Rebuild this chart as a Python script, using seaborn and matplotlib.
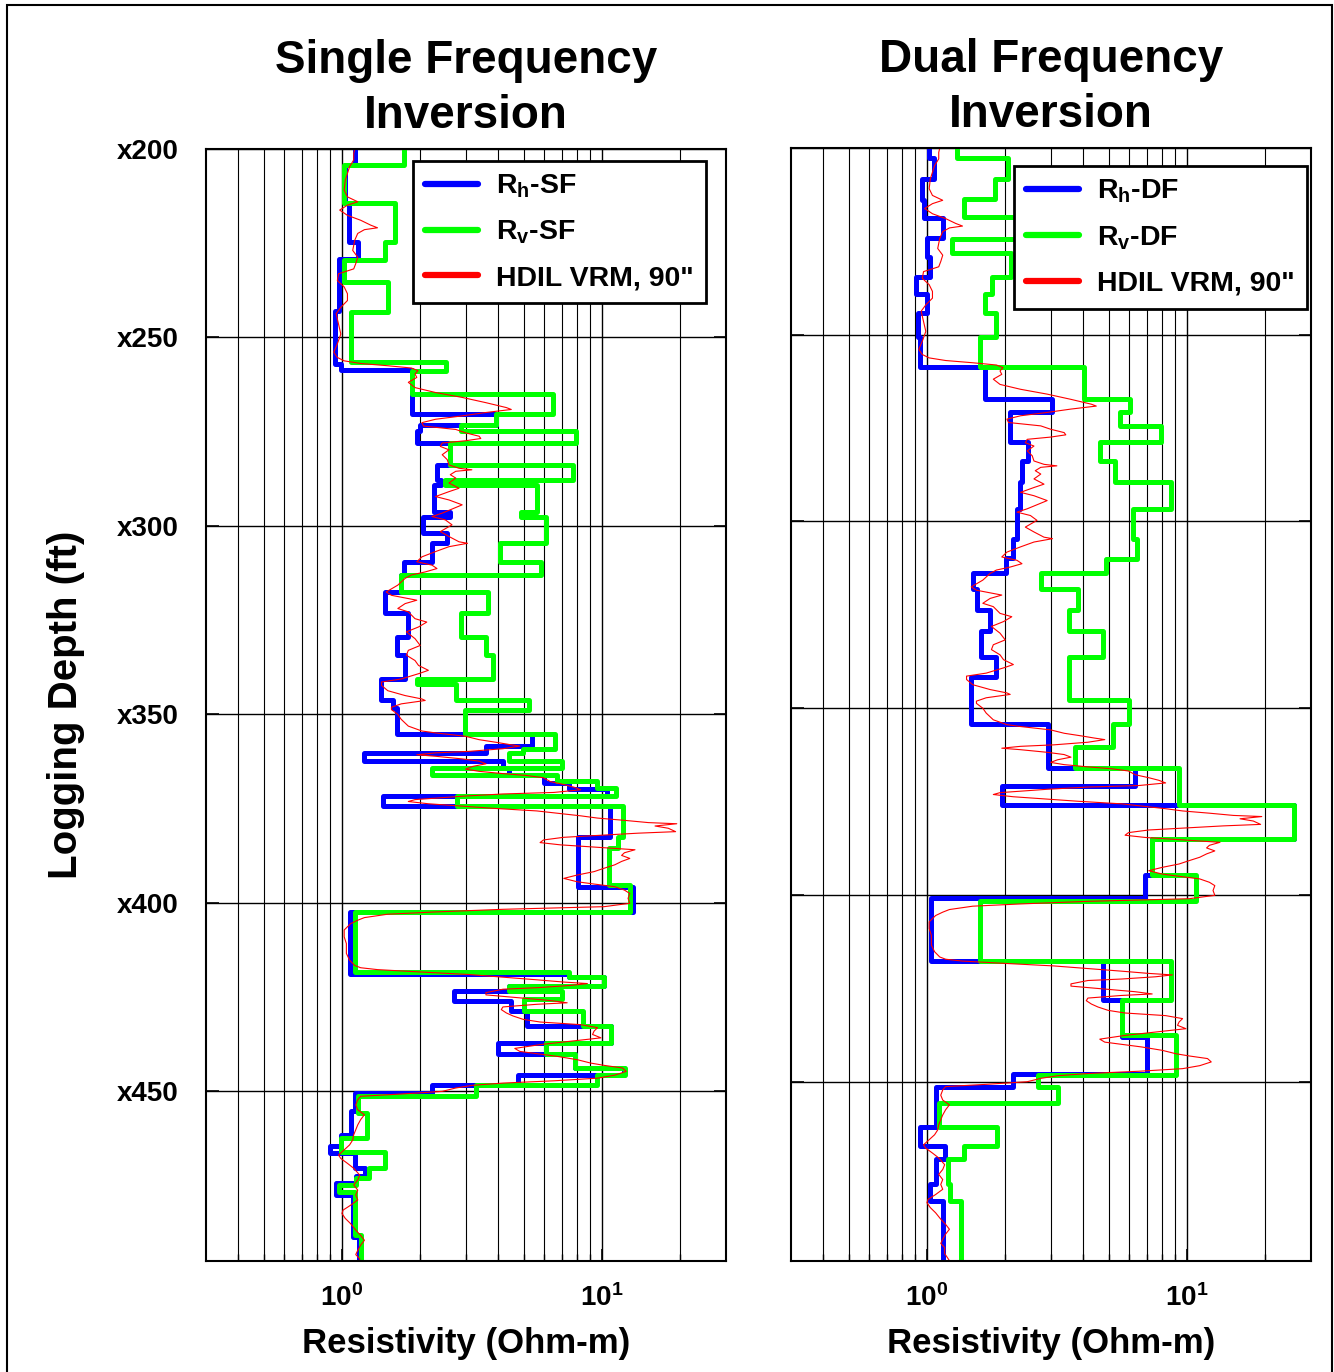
import numpy as np
import pandas as pd
import matplotlib
matplotlib.use("Agg")
import matplotlib.pyplot as plt
import seaborn as sns
from matplotlib.patches import Rectangle
from matplotlib.ticker import FixedLocator, FixedFormatter, NullFormatter

# ---------------- data (depth in ft, resistivity in Ohm-m) ----------------
rh_sf_edges = [200.0, 204.3, 214.3, 224.7, 229.3, 242.9, 257.0, 258.7, 270.4, 273.3, 274.9,
               278.0, 283.8, 287.8, 289.1, 296.2, 297.5, 302.0, 304.6, 309.5, 313.0, 317.5,
               323.2, 329.5, 334.3, 340.6, 346.3, 348.2, 355.3, 358.4, 360.2, 362.4, 364.2,
               366.0, 368.2, 369.8, 371.7, 374.4, 382.4, 395.7, 402.4, 418.8, 419.7, 422.0,
               423.4, 425.9, 428.7, 432.7, 437.1, 440.2, 443.8, 445.6, 448.2, 450.4, 455.3,
               461.5, 464.6, 466.4, 470.4, 472.5, 474.4, 477.5, 488.6, 495.0]
rh_sf = [1.12, 1.03, 1.065, 1.15, 0.973, 0.939, 0.99, 1.853, 3.92, 2.0, 1.94, 2.61, 2.32,
         2.41, 2.265, 2.61, 2.05, 2.54, 2.22, 1.73, 1.69, 1.47, 1.80, 1.63, 1.745, 1.415,
         1.57, 1.63, 5.36, 3.58, 1.22, 4.16, 4.4, 6.0, 7.46, 10.5, 1.44, 10.7, 8.1, 13.2,
         1.07, 7.5, 10.2, 4.4, 2.69, 4.48, 5.13, 10.8, 4.0, 7.85, 12.2, 4.76, 2.22, 1.12,
         1.08, 0.99, 0.90, 1.12, 1.23, 1.13, 0.945, 1.10, 1.165]

rv_sf_edges = [200.0, 204.3, 214.3, 224.7, 229.5, 235.3, 243.3, 256.6, 258.8, 264.9, 270.4,
               273.3, 274.9, 278.0, 283.8, 287.8, 289.1, 296.2, 297.5, 304.6, 309.5, 313.0,
               317.5, 323.2, 329.5, 334.3, 340.6, 341.9, 346.3, 348.7, 355.3, 359.3, 360.2,
               362.4, 364.2, 366.0, 367.7, 369.5, 371.7, 374.4, 382.4, 385.5, 395.3, 402.4,
               418.3, 419.7, 422.0, 423.4, 425.6, 428.7, 432.7, 437.1, 440.2, 443.8, 445.6,
               448.2, 451.3, 455.8, 462.4, 466.0, 470.4, 472.9, 474.8, 476.6, 488.2, 495.0]
rv_sf = [1.73, 1.018, 1.595, 1.47, 1.018, 1.50, 1.087, 2.515, 1.853, 6.48, 3.92, 2.86, 7.92,
         2.61, 7.75, 2.50, 5.61, 4.90, 6.08, 4.07, 5.83, 1.69, 3.64, 2.86, 3.58, 3.80, 1.94,
         2.735, 5.25, 2.97, 6.58, 4.98, 4.39, 7.0, 2.22, 6.71, 9.6, 11.3, 2.78, 12.0, 11.5,
         10.6, 12.8, 1.12, 7.5, 10.2, 4.39, 7.0, 5.0, 8.46, 10.8, 6.1, 7.85, 12.3, 9.6, 3.27,
         1.15, 1.25, 0.99, 1.47, 1.27, 1.13, 0.97, 1.12, 1.18]

rh_df_edges = [200.0, 202.6, 208.4, 213.8, 218.7, 224.1, 229.1, 234.5, 239.1, 244.3, 250.6,
               258.7, 267.3, 270.8, 278.7, 283.7, 289.5, 296.7, 304.8, 309.7, 313.8, 318.2,
               323.6, 329.2, 336.2, 341.6, 354.2, 366.1, 370.9, 375.8, 385.0, 394.7, 400.9,
               417.6, 428.0, 437.9, 447.8, 451.3, 462.1, 467.1, 470.7, 477.4, 481.9, 498.5]
rh_df = [1.018, 1.065, 0.959, 0.973, 1.148, 1.003, 1.024, 0.909, 1.003, 0.922, 0.939, 1.669,
         3.04, 2.09, 2.44, 2.32, 2.285, 2.22, 2.15, 2.01, 1.50, 1.563, 1.755, 1.61, 1.842,
         1.48, 2.93, 6.32, 1.94, 25.8, 7.35, 6.92, 1.033, 4.76, 5.61, 7.02, 2.15, 1.087,
         0.939, 1.176, 1.087, 1.024, 1.148]

rv_df_edges = [200.0, 202.6, 208.4, 213.6, 218.5, 224.3, 228.2, 234.5, 239.1, 244.3, 250.6,
               258.7, 267.3, 270.8, 274.3, 278.7, 283.7, 289.3, 296.7, 304.8, 310.0, 313.8,
               318.1, 323.8, 329.2, 336.2, 347.9, 354.2, 360.4, 366.1, 375.8, 385.0, 394.7,
               401.6, 417.6, 428.0, 437.4, 448.2, 451.3, 455.7, 462.1, 467.1, 470.7, 477.4,
               481.9, 498.5]
rv_df = [1.302, 2.058, 1.826, 1.394, 2.6, 1.244, 2.10, 1.772, 1.679, 1.842, 1.595, 4.01, 6.05,
         5.53, 7.92, 4.62, 5.28, 8.66, 6.2, 6.4, 4.87, 2.735, 3.80, 3.51, 4.76, 3.51, 5.96,
         5.21, 3.71, 9.3, 25.8, 7.35, 10.8, 1.595, 8.66, 5.61, 9.06, 2.67, 3.18, 1.114, 1.853,
         1.394, 1.207, 1.23, 1.353]

hdil_depth = [200.0, 201.2, 202.9, 204.7, 206.5, 208.3, 210.9, 212.7, 214.0, 214.9, 216.2, 217.6,
              218.9, 220.2, 220.9, 221.4, 222.4, 224.2, 226.9, 228.7, 230.4, 231.8, 233.1, 234.9,
              236.6, 238.4, 240.2, 242.0, 243.7, 246.4, 249.1, 251.7, 253.9, 255.3, 256.2, 256.9,
              257.5, 258.1, 258.8, 259.7, 260.6, 261.9, 263.3, 264.6, 265.9, 267.3, 268.6, 269.1,
              269.9, 270.8, 271.7, 272.6, 273.5, 274.4, 275.3, 276.2, 276.8, 277.4, 278.0, 278.9,
              279.8, 281.1, 282.4, 283.8, 284.7, 285.1, 285.5, 286.4, 287.3, 288.6, 290.0, 290.9,
              292.2, 293.1, 294.4, 295.7, 296.6, 297.5, 298.4, 299.7, 301.5, 302.8, 304.2, 304.6,
              305.5, 306.8, 308.2, 309.5, 310.4, 311.3, 312.2, 313.0, 313.9, 315.7, 317.5, 318.4,
              319.7, 320.6, 321.9, 322.8, 324.6, 325.5, 326.8, 328.1, 329.9, 331.7, 333.0, 334.3,
              335.7, 337.0, 338.3, 339.2, 340.6, 341.4, 342.3, 343.7, 345.0, 345.9, 346.3, 347.2,
              348.1, 348.7, 350.0, 351.3, 353.1, 354.4, 354.9, 355.8, 356.7, 357.4, 358.0, 358.4,
              359.1, 359.8, 360.2, 360.7, 361.1, 361.8, 362.4, 363.1, 363.8, 364.5, 365.1, 365.7,
              366.2, 366.8, 367.8, 368.6, 369.3, 370.0, 370.7, 371.1, 371.7, 372.6, 373.1, 373.7,
              374.2, 374.9, 375.6, 376.2, 376.9, 377.5, 378.1, 378.7, 379.0, 379.6, 380.2, 381.1,
              381.5, 382.0, 382.6, 383.3, 384.0, 384.6, 385.2, 385.9, 386.7, 387.4, 388.2, 389.0,
              389.9, 390.8, 391.7, 392.6, 393.5, 394.4, 395.0, 395.7, 396.6, 397.5, 398.8, 400.1,
              401.0, 401.7, 402.4, 403.0, 403.9, 404.6, 405.5, 407.2, 409.0, 410.8, 413.4, 415.2,
              416.6, 417.2, 417.7, 418.3, 419.0, 419.7, 420.4, 421.0, 421.4, 421.9, 422.5, 422.9,
              423.8, 424.4, 425.2, 425.9, 426.5, 426.9, 427.6, 428.3, 429.2, 430.0, 430.9, 431.6,
              432.3, 433.1, 434.0, 434.9, 435.8, 436.7, 437.6, 438.6, 439.4, 440.1, 440.7, 441.6,
              442.5, 443.1, 443.8, 444.7, 445.7, 446.5, 447.2, 447.8, 448.4, 449.1, 450.0, 450.7,
              451.3, 452.2, 453.6, 454.9, 456.2, 457.5, 458.9, 460.2, 461.5, 462.9, 464.2, 465.5,
              466.9, 467.8, 469.1, 470.4, 472.2, 473.5, 474.8, 476.2, 477.5, 478.8, 480.2, 481.5,
              482.4, 483.7, 485.1, 486.8, 488.2, 489.5, 490.8, 492.2, 493.3, 494.4, 496.0, 497.9]
hdil_res = [1.12, 1.11, 1.11, 1.07, 1.05, 1.03, 1.02, 1.05, 1.15, 1.05, 0.98, 1.05,
            1.18, 1.29, 1.37, 1.22, 1.15, 1.12, 1.10, 1.15, 1.13, 1.11, 0.97, 0.96,
            1.02, 1.05, 1.05, 0.99, 0.95, 0.97, 0.99, 0.96, 0.93, 0.96, 1.02, 1.18,
            1.50, 1.85, 1.96, 1.91, 1.94, 1.80, 1.91, 2.29, 2.90, 3.58, 4.29, 4.48,
            3.58, 2.90, 2.29, 2.03, 2.06, 2.74, 2.99, 3.37, 3.42, 2.99, 2.43, 2.39,
            2.58, 2.43, 2.54, 2.58, 2.82, 3.16, 2.74, 2.61, 2.74, 2.58, 2.82, 2.58,
            2.29, 2.58, 2.90, 2.61, 2.43, 2.22, 2.50, 2.65, 2.39, 2.58, 2.82, 3.04,
            2.58, 2.29, 2.03, 1.94, 2.22, 2.32, 2.09, 1.85, 1.75, 1.64, 1.48, 1.55,
            1.94, 1.75, 1.64, 1.80, 1.91, 2.12, 1.97, 1.77, 1.91, 2.00, 1.80, 1.77,
            1.91, 1.97, 2.15, 1.97, 1.69, 1.42, 1.42, 1.50, 1.75, 2.03, 2.09, 1.69,
            1.55, 1.55, 1.64, 1.69, 1.80, 2.03, 2.29, 2.99, 3.37, 3.92, 4.42, 4.83,
            4.16, 3.08, 2.29, 1.94, 2.29, 2.90, 3.37, 3.58, 3.18, 2.99, 3.37, 4.16,
            5.13, 5.96, 6.32, 7.13, 7.80, 8.28, 6.52, 4.16, 2.90, 1.91, 1.80, 2.15,
            2.74, 3.80, 5.61, 6.71, 8.28, 9.62, 12.2, 15.1, 19.4, 16.0, 18.0, 19.2,
            13.8, 10.2, 7.13, 5.96, 5.78, 6.92, 9.33, 13.4, 12.2, 11.9, 12.8, 11.9,
            11.2, 10.2, 9.33, 8.04, 7.13, 8.04, 9.33, 11.2, 12.2, 12.8, 12.6, 12.8,
            10.2, 4.16, 2.29, 1.50, 1.22, 1.15, 1.08, 1.02, 1.02, 1.04, 1.04, 1.07,
            1.12, 1.18, 1.37, 1.97, 3.08, 4.16, 5.61, 7.13, 8.79, 7.57, 5.61, 4.16,
            3.58, 3.58, 4.83, 6.32, 7.35, 5.61, 4.16, 4.10, 4.29, 4.55, 4.98, 5.78,
            8.28, 9.62, 9.33, 9.20, 9.91, 7.57, 5.78, 4.62, 4.83, 5.78, 6.71, 8.04,
            9.06, 10.2, 12.0, 12.4, 11.2, 9.62, 6.52, 4.16, 3.18, 2.74, 2.43, 1.69,
            1.18, 1.15, 1.13, 1.15, 1.22, 1.18, 1.15, 1.13, 1.11, 1.10, 1.07, 1.02,
            0.97, 0.99, 1.05, 1.11, 1.17, 1.15, 1.11, 1.15, 1.13, 1.15, 1.08, 1.01,
            1.00, 1.03, 1.08, 1.13, 1.18, 1.22, 1.18, 1.15, 1.13, 1.17, 1.17, 1.22]

titles = ["Single Frequency\nInversion", "Dual Frequency\nInversion"]
depth_ticks = [200, 250, 300, 350, 400, 450]
depth_ticklabels = ["x200", "x250", "x300", "x350", "x400", "x450"]
res_ticks = [1, 10]
res_ticklabels = [r"$10^{0}$", r"$10^{1}$"]
minor_res = [0.4, 0.5, 0.6, 0.7, 0.8, 0.9, 2, 3, 4, 5, 6, 7, 8, 9, 20]

# ---------------- style ----------------
sns.set_theme(style="white")
plt.rcParams.update({
    "font.family": ["Liberation Sans", "DejaVu Sans"],
    "font.weight": "bold",
    "axes.labelweight": "bold",
    "axes.titleweight": "bold",
    "mathtext.fontset": "custom",
    "mathtext.rm": "Liberation Sans:bold",
    "mathtext.it": "Liberation Sans:bold",
    "mathtext.bf": "Liberation Sans:bold",
    "mathtext.sf": "Liberation Sans:bold",
    "axes.edgecolor": "black",
    "axes.linewidth": 1.5,
    "text.color": "black",
    "axes.labelcolor": "black",
    "xtick.color": "black",
    "ytick.color": "black",
    "axes.titlecolor": "black",
})

W, H = 1334, 1372
fig = plt.figure(figsize=(W / 100, H / 100), dpi=100)
fig.patch.set_facecolor("white")
axL = fig.add_axes([206 / W, (H - 1261) / H, 520 / W, 1112 / H])
axR = fig.add_axes([791 / W, (H - 1261) / H, 520 / W, 1113 / H])


def steps(edges, vals):
    xs, ys = [], []
    for i, v in enumerate(vals):
        xs += [v, v]
        ys += [edges[i], edges[i + 1]]
    return pd.DataFrame({"res": xs, "depth": ys})


panels = [
    (axL, rh_sf_edges, rh_sf, rv_sf_edges, rv_sf, "SF", 495.0, titles[0],
     (0.9615, 0.9895)),
    (axR, rh_df_edges, rh_df, rv_df_edges, rv_df, "DF", 498.0, titles[1],
     (0.992, 0.9838)),
]
red_df = pd.DataFrame({"res": hdil_res, "depth": hdil_depth})

for ax, rhe, rh, rve, rv, tag, ybot, title, anchor in panels:
    ax.set_xscale("log")
    sns.lineplot(data=steps(rhe, rh), x="res", y="depth", sort=False, estimator=None,
                 color="#0000ff", linewidth=3.6, ax=ax, label=r"R$_\mathrm{h}$-" + tag)
    sns.lineplot(data=steps(rve, rv), x="res", y="depth", sort=False, estimator=None,
                 color="#00ff00", linewidth=3.6, ax=ax, label=r"R$_\mathrm{v}$-" + tag)
    sns.lineplot(data=red_df, x="res", y="depth", sort=False, estimator=None,
                 color="#ff0000", linewidth=0.8, ax=ax, label='HDIL VRM, 90"')
    ax.set_xlim(0.3, 30)
    ax.set_ylim(ybot, 200)

    ax.xaxis.set_major_locator(FixedLocator(res_ticks))
    ax.xaxis.set_minor_locator(FixedLocator(minor_res))
    ax.xaxis.set_major_formatter(FixedFormatter(res_ticklabels))
    ax.xaxis.set_minor_formatter(NullFormatter())
    ax.yaxis.set_major_locator(FixedLocator(depth_ticks))
    if ax is axL:
        ax.set_yticklabels(depth_ticklabels)
    else:
        ax.set_yticklabels([""] * len(depth_ticks))

    ax.grid(which="major", axis="both", color="black", linewidth=1.0)
    ax.grid(which="minor", axis="x", color="black", linewidth=0.8)
    ax.set_axisbelow(True)
    ax.tick_params(axis="both", which="major", direction="in", length=9, width=1.2,
                   left=True, right=True, bottom=True, top=False)
    ax.tick_params(axis="x", which="minor", direction="in", length=5, width=1,
                   bottom=True, top=False)
    ax.tick_params(axis="x", which="major", labelsize=20, pad=17)
    ax.tick_params(axis="y", which="major", labelsize=20, pad=20)
    for s in ax.spines.values():
        s.set_visible(True)
        s.set_color("black")
        s.set_linewidth(1.5)

    ax.set_title(title, fontsize=33, fontweight="bold", pad=15, linespacing=1.33)
    ax.set_xlabel("Resistivity (Ohm-m)", fontsize=25, fontweight="bold")
    ax.xaxis.set_label_coords(0.5, -0.0595)
    ax.set_ylabel("")

    handles, labels = ax.get_legend_handles_labels()
    leg = ax.legend(handles, labels, loc="upper right", bbox_to_anchor=anchor,
                    borderaxespad=0, fontsize=20.5, frameon=True, fancybox=False,
                    framealpha=1, edgecolor="black", handlelength=1.85,
                    handletextpad=0.65, labelspacing=0.66, borderpad=0.42)
    leg.get_frame().set_linewidth(2)
    for h in leg.legend_handles:
        h.set_linewidth(4.5)

axL.set_ylabel("Logging Depth (ft)", fontsize=29, fontweight="bold")
axL.yaxis.set_label_coords(-0.233, 0.5)

fig.add_artist(Rectangle((7 / W, -0.01), (1332 - 7) / W, 1 - 5 / H + 0.01,
                         transform=fig.transFigure, fill=False, lw=1.5, ec="black"))

fig.savefig("out.png", dpi=100)
